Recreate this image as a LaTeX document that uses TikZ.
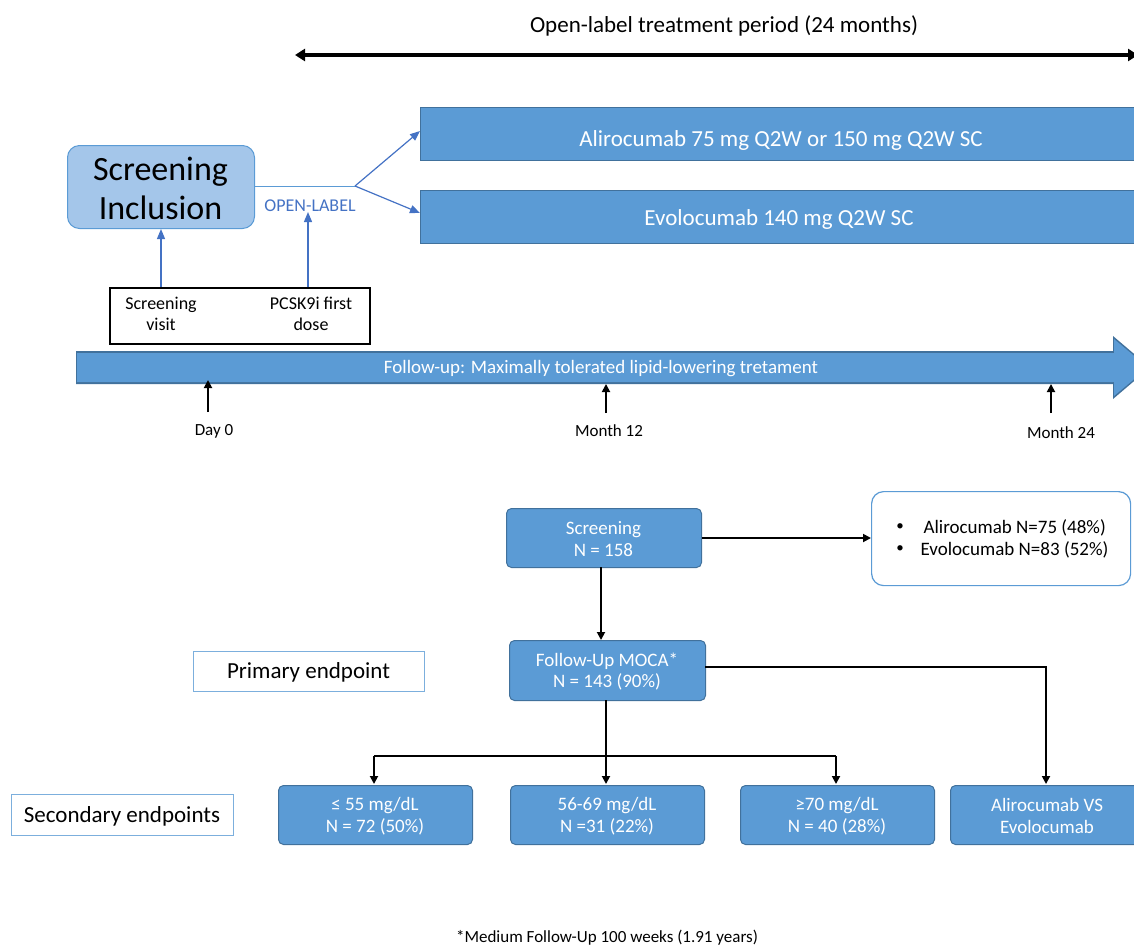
\documentclass[tikz,border=0pt]{standalone}
\usepackage{fontspec}
\setmainfont{Carlito}
\usetikzlibrary{arrows.meta,shapes.arrows}
\definecolor{bfill}{HTML}{5B9BD5}
\definecolor{bdraw}{HTML}{41719C}
\definecolor{lfill}{HTML}{A4C6EA}
\definecolor{lblue}{HTML}{4472C4}
\newcommand\myfsz[1]{\fontsize{#1}{\dimexpr #1pt*23/20\relax}\selectfont}
\tikzset{
  fs/.style={font=\myfsz{#1}},
  bar/.style={draw=bdraw, fill=bfill, line width=1pt, text=white, inner sep=0pt},
  rbox/.style={draw=bdraw, fill=bfill, line width=1pt, rounded corners=5pt, text=white, align=center, inner sep=0pt},
  wbox/.style={draw=bfill!80, fill=white, line width=1pt, text=black, inner sep=0pt},
  blk/.style={draw=black, line width=1.8pt, -{Triangle[length=8pt,width=8pt]}},
  barr/.style={draw=lblue, line width=1.2pt, -{Triangle[length=10pt,width=8pt]}},
  lbl/.style={fs=17, text=black},
}
\begin{document}
\begin{tikzpicture}[x=1pt,y=-1pt]
\useasboundingbox (0,0) rectangle (1134,946);
% top
\node[fs=23] (title) at (724,26) {Open-label treatment period (24 months)};
\coordinate (tl) at (295,55);
\coordinate (tr) at (1138,55);
\draw[line width=4pt, {Triangle[length=10pt,width=12pt]}-{Triangle[length=10pt,width=12pt]}] (tl) -- (tr);
% treatment bars
\node[bar, minimum width=724pt, minimum height=53pt, anchor=north west] (alir) at (420,107) {};
\node[fs=23, text=white] at (781,140) {Alirocumab 75 mg Q2W or 150 mg Q2W SC};
\node[bar, minimum width=724pt, minimum height=53pt, anchor=north west] (evol) at (420,190) {};
\node[fs=23, text=white] at (779,219) {Evolocumab 140 mg Q2W SC};
% screening inclusion
\node[draw=bfill, fill=lfill, line width=1pt, rounded corners=12pt, minimum width=187pt, minimum height=83pt, anchor=north west, inner sep=0pt] (scr) at (67,145) {};
\node[fs=34, align=center, text=black] at (160.5,188) {Screening\\Inclusion};
\coordinate (split) at (355,186);
\draw[draw=bfill, line width=1pt] (scr.east |- split) -- (split);
\coordinate (alirin) at (420,131);
\coordinate (evolin) at (420,213);
\draw[barr] (split) -- (alirin);
\draw[barr] (split) -- (evolin);
\node[fs=18, text=lblue] (ol) at (310,206) {OPEN-LABEL};
% visit box
\node[draw=black, line width=1.5pt, minimum width=260pt, minimum height=56pt, anchor=north west, inner sep=0pt] (vbox) at (109,287) {};
\node[fs=18, align=center] (sv) at (161,314) {Screening\\visit};
\node[fs=18, align=center] (pd) at (311,314) {PCSK9i first\\dose};
\coordinate (svb) at (161,287);
\coordinate (pdb) at (308,287);
\draw[barr] (svb) -- (161,229);
\draw[barr] (pdb) -- (308,212);
% follow up arrow
\fill[bdraw] (76,351) -- (1113,351) -- (1113,336) -- (1150,367.5) -- (1113,399) -- (1113,384) -- (76,384) -- cycle;
\fill[bfill] (77,353) -- (1114,353) -- (1114,339) -- (1148,367.5) -- (1114,396) -- (1114,382) -- (77,382) -- cycle;
\node[fs=19, text=white] (fu) at (601,369) {Follow-up: Maximally tolerated lipid-lowering tretament};
% time markers
\node[lbl] (d0) at (214,431) {Day 0};
\node[lbl] (m12) at (609,431) {Month 12};
\node[lbl] (m24) at (1061,433) {Month 24};
\draw[blk] (208,412) -- (208,380);
\draw[blk] (606,413) -- (606,384);
\draw[blk] (1051,413) -- (1051,384);
% flow chart
\node[rbox, minimum width=195pt, minimum height=59pt, anchor=north west] (s158) at (506,508) {};
\node[fs=19, text=white, align=center] at (603.5,539) {Screening\\N = 158};
\node[draw=bfill, line width=1.2pt, fill=white, rounded corners=12pt, minimum width=259pt, minimum height=94pt, anchor=north west, inner sep=0pt] (grp) at (871,491) {};
\node[fs=15, anchor=center] at (900,527) {\textbullet};
\node[fs=15, anchor=center] at (900,549) {\textbullet};
\node[fs=19, anchor=west] at (920,528) {Alirocumab N=75 (48\%)};
\node[fs=19, anchor=west] at (917,550) {Evolocumab N=83 (52\%)};
\draw[blk] (s158.east) -- (s158.east -| grp.west);
\node[rbox, minimum width=196pt, minimum height=60pt, anchor=north west] (moca) at (509,640) {};
\node[fs=19, text=white, align=center] at (607,671.5) {Follow-Up MOCA*\\N = 143 (90\%)};
\draw[blk] (601,567) -- (601,640);
\node[wbox, minimum width=231pt, minimum height=40pt, anchor=north west] (prim) at (193,651) {};
\node[fs=23] at (308.5,672.5) {Primary endpoint};
% bottom boxes
\node[rbox, minimum width=194pt, minimum height=59pt, anchor=north west] (b1) at (278,785) {};
\node[fs=19, text=white, align=center] at (375,816) {≤ 55 mg/dL\\N = 72 (50\%)};
\node[rbox, minimum width=194pt, minimum height=59pt, anchor=north west] (b2) at (510,785) {};
\node[fs=19, text=white, align=center] at (607,816) {56-69 mg/dL\\N =31 (22\%)};
\node[rbox, minimum width=194pt, minimum height=59pt, anchor=north west] (b3) at (740,785) {};
\node[fs=19, text=white, align=center] at (837,816) {≥70 mg/dL\\N = 40 (28\%)};
\node[rbox, minimum width=194pt, minimum height=59pt, anchor=north west] (b4) at (950,785) {};
\node[fs=19, text=white, align=center] at (1047,816) {Alirocumab VS\\Evolocumab};
\node[wbox, minimum width=222pt, minimum height=41pt, anchor=north west] (sec) at (11,794) {};
\node[fs=23] at (122,816.5) {Secondary endpoints};
% connectors
\coordinate (hb) at (606,756);
\draw[line width=1.8pt] (606,700) -- (hb);
\draw[line width=1.8pt] (374,756) -- (836,756);
\draw[blk] (374,756) -- (374,784);
\draw[blk] (606,756) -- (606,784);
\draw[blk] (836,756) -- (836,784);
\draw[blk] (705,667) -- (1046,667) -- (1046,784);
% footnote
\node[lbl] (foot) at (607,938) {*Medium Follow-Up 100 weeks (1.91 years)};
\end{tikzpicture}
\end{document}
